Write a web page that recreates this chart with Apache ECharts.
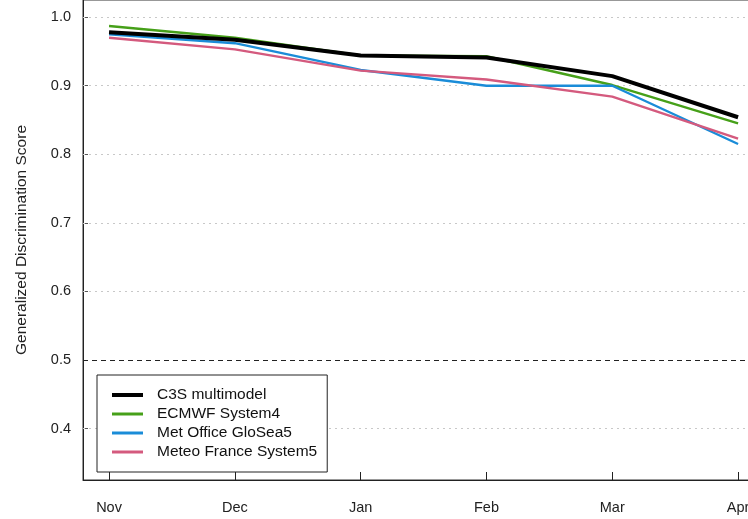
<!DOCTYPE html>
<html><head><meta charset="utf-8">
<script src="https://cdn.jsdelivr.net/npm/echarts@6/dist/echarts.min.js"></script>
<style>html,body{margin:0;padding:0;background:#fff;overflow:hidden;width:748px;height:519px}#chart{width:800px;height:519px}</style>
</head><body><div id="chart"></div>
<script>
// Start months of the forecasts and the discrimination score of each system
const months = ['Nov', 'Dec', 'Jan', 'Feb', 'Mar', 'Apr'];
const c3s = [0.978, 0.967, 0.944, 0.941, 0.914, 0.854];
const ecmwf = [0.987, 0.970, 0.944, 0.943, 0.901, 0.845];
const ukmo = [0.975, 0.962, 0.923, 0.900, 0.900, 0.815];
const meteo = [0.970, 0.953, 0.922, 0.909, 0.884, 0.823];
const yTicks = [0.4, 0.5, 0.6, 0.7, 0.8, 0.9, 1.0];
const noSkill = 0.5;

const FONT = 'Liberation Sans';
const pairs = arr => arr.map((v, i) => [i, v]);
const monthIdx = months.map((m, i) => i);

const gridLines = yTicks.filter(v => v !== noSkill).map(v => ({
  yAxis: v, lineStyle: { color: '#c8c8c8', type: [2, 4], width: 1 }
}));
gridLines.push({ yAxis: noSkill, lineStyle: { color: '#222', type: [5, 4], width: 1 } });

const lineSeries = (name, arr, color, width, z) => ({
  name, type: 'line', data: pairs(arr), symbol: 'none', z,
  lineStyle: { color, width }, itemStyle: { color }
});

const chart = echarts.init(document.getElementById('chart'));
chart.setOption({
  animation: false,
  textStyle: { fontFamily: FONT },
  // the chart canvas is wider than the page, so the frame's right side is cut off
  grid: { left: 83, top: 0, right: 17, bottom: 39, show: true, borderColor: '#333', borderWidth: 1 },
  legend: {
    orient: 'vertical', left: 97, top: 375,
    data: [
      { name: 'C3S multimodel', lineStyle: { width: 4 } },
      { name: 'ECMWF System4', lineStyle: { width: 3 } },
      { name: 'Met Office GloSea5', lineStyle: { width: 3 } },
      { name: 'Meteo France System5', lineStyle: { width: 3 } }
    ],
    borderColor: '#222', borderWidth: 1, backgroundColor: '#fff',
    padding: [12, 10, 12, 13], itemWidth: 31, itemHeight: 14, itemGap: 3,
    itemStyle: { opacity: 0 },
    textStyle: { fontFamily: FONT, fontSize: 15.5, color: '#111', padding: [0, 0, 0, 9] }
  },
  xAxis: {
    type: 'value', min: -0.207, max: 5.357,
    splitLine: { show: false },
    axisLine: { show: true, onZero: false, lineStyle: { color: '#222', width: 1 } },
    axisTick: { show: true, inside: true, length: 8, customValues: monthIdx, lineStyle: { color: '#222' } },
    axisLabel: {
      customValues: monthIdx, margin: 20, fontSize: 14.5, color: '#222', fontFamily: FONT,
      formatter: v => months[Math.round(v)]
    }
  },
  yAxis: {
    type: 'value', min: 0.325, max: 1.025,
    name: 'Generalized Discrimination Score', nameLocation: 'middle', nameGap: 53,
    nameTextStyle: { fontSize: 15.5, color: '#222', fontFamily: FONT },
    splitLine: { show: false },
    axisLine: { show: true, onZero: false, lineStyle: { color: '#222', width: 1 } },
    axisTick: { show: true, inside: true, length: 5, customValues: yTicks, lineStyle: { color: '#555' } },
    axisLabel: {
      customValues: yTicks, margin: 12, fontSize: 14.5, color: '#222', fontFamily: FONT,
      formatter: v => v.toFixed(1)
    }
  },
  series: [
    Object.assign(lineSeries('ECMWF System4', ecmwf, '#46a019', 2.4, 3), {
      markLine: { silent: true, symbol: 'none', label: { show: false }, data: gridLines, z: 1 }
    }),
    lineSeries('Met Office GloSea5', ukmo, '#1a8cd8', 2.4, 3),
    lineSeries('Meteo France System5', meteo, '#d45a7e', 2.4, 3),
    lineSeries('C3S multimodel', c3s, '#000000', 4, 4)
  ]
});
</script>
</body></html>
